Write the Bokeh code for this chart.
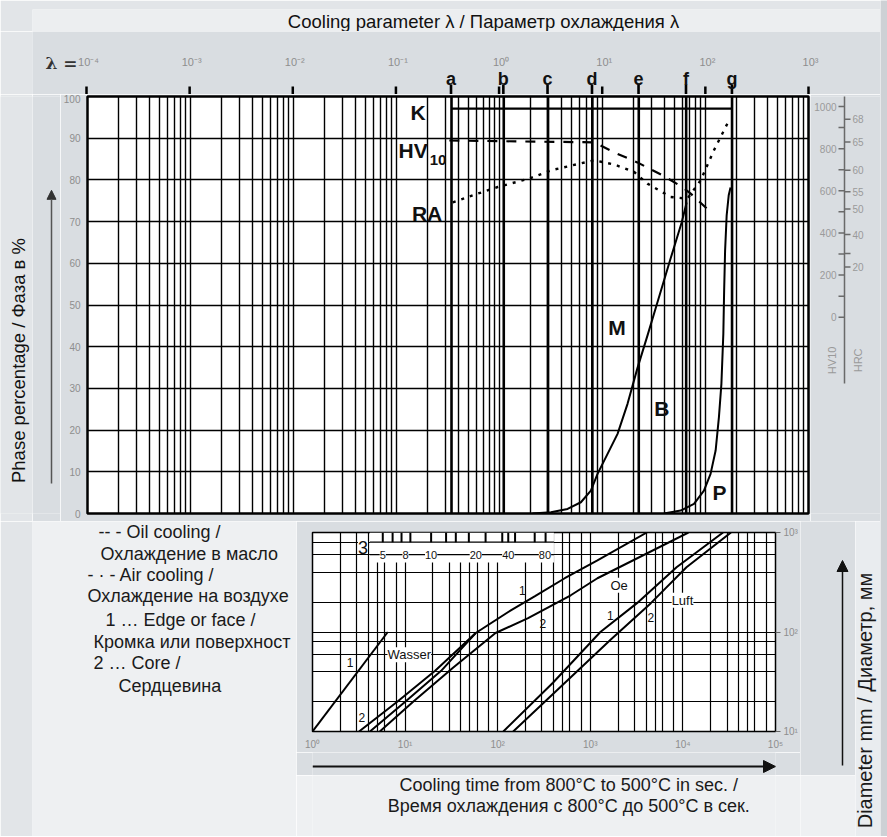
import math
from bokeh.plotting import figure
from bokeh.models import (Range1d, FixedTicker, LabelSet, Arrow, NormalHead, Span,
                          ColumnDataSource)
from bokeh.layouts import row, column
from bokeh.embed import file_html
from bokeh.resources import INLINE
from bokeh.core.properties import value

FONT = "Liberation Sans"
STRIP = "#e2e5e8"
PANEL = "#d9dde1"
HEAD = "#eceef0"
LOWER = "#eef0f2"
RSTRIP = "#e9ecef"
EDGE = "#cdd1d5"
TICKTXT = "#8e8e8e"
INK = "#111111"

# ---------------- data : upper chart ----------------
header_text = "Cooling parameter λ / Параметр охлаждения λ"
y_title = "Phase percentage / Фаза в %"
lam_prefix = "λ ="
lam_decades = [1e-4, 1e-3, 1e-2, 1e-1, 1.0, 10.0, 100.0, 1000.0]
lam_decade_labels = ["10⁻⁴", "10⁻³", "10⁻²", "10⁻¹", "10⁰", "10¹", "10²", "10³"]
lam_minor_mult = [1, 2, 3, 4, 5, 6, 7, 8, 9]
phase_ticks = [0, 10, 20, 30, 40, 50, 60, 70, 80, 90, 100]
curve_letters = ["a", "b", "c", "d", "e", "f", "g"]
curve_lambda = [0.342, 1.10, 2.95, 7.96, 22.5, 64.9, 181.0]
k_level = 97.1
hv_lambda = [0.326, 8.29, 12.97, 21.8, 38.1, 59.6, 71.8, 112.0]
hv_pct = [89.45, 89.0, 86.6, 84.2, 81.1, 78.3, 76.7, 72.3]
ra_lambda = [0.352, 0.614, 0.96, 1.94, 3.16, 5.12, 8.29, 12.97, 20.3, 27.3, 45.9, 66.7, 89.7, 120.8, 163.0]
ra_pct = [74.6, 76.7, 78.3, 80.3, 82.3, 83.5, 84.7, 83.7, 81.9, 79.1, 75.9, 75.5, 79.9, 87.1, 93.5]
m_lambda = [2.09, 3.16, 4.58, 6.17, 7.71, 8.95, 11.2, 14.0, 17.5, 21.8, 27.5, 35.1, 45.9, 58.7, 65.6]
m_pct = [0.0, 0.3, 1.1, 2.7, 5.5, 9.5, 14.3, 19.1, 26.3, 34.8, 42.9, 51.6, 61.2, 69.8, 74.6]
p_lambda = [39.5, 57.4, 77.3, 96.6, 112.0, 125.4, 135.0, 142.7, 149.0, 151.7, 155.0, 160.5, 168.0, 175.0]
p_pct = [0.0, 0.7, 2.3, 5.5, 9.5, 15.1, 23.1, 31.1, 43.1, 53.5, 63.1, 71.5, 76.3, 78.2]
phase_names = ["K", "HV", "RA", "M", "B", "P"]
phase_name_lambda = [0.162, 0.145, 0.198, 13.8, 37.6, 137.0]
phase_name_pct = [96.2, 87.1, 71.9, 44.6, 25.2, 5.0]
hv_sub = "10"
hv_sub_lambda = 0.253
hv_sub_pct = 84.7

# hardness scales (HV10 left, HRC right)
hv_ticks = [0, 100, 200, 300, 400, 500, 600, 700, 800, 900, 1000]
hv_shown = [0, 200, 400, 600, 800, 1000]
hrc_values = [68, 65, 60, 55, 50, 40, 30, 20]
hrc_as_hv = [940, 832, 697, 595, 513, 392, 302, 238]
hrc_shown = ["68", "65", "60", "55", "50", "40", "", "20"]
hv_rule = [-315, 1052]
scale_names = ["HV10", "HRC"]
scale_name_hv = -205

# ---------------- data : lower chart ----------------
t_decades = [1, 10, 100, 1000, 10000, 100000]
t_decade_labels = ["10⁰", "10¹", "10²", "10³", "10⁴", "10⁵"]
t_grid_mult = [1, 2, 3, 4, 5, 6, 8]
d_ticks = [10, 100, 1000]
d_tick_labels = ["10¹", "10²", "10³"]
d_grid = [10, 20, 40, 60, 80, 100, 200, 400, 600, 800, 1000]

wasser_edge_t = [1.0, 6.5]
wasser_edge_d = [10, 100]
wasser_core_t = [3.18, 8.29, 21.1, 57.9]
wasser_core_d = [10, 20, 40.7, 97.7]
oel_edge_t = [4.17, 10.1, 24.5, 57.9, 140, 253, 530, 1194, 4085]
oel_edge_d = [10, 20, 40.7, 97.7, 166, 229, 347, 525, 1000]
oel_core_t = [5.33, 12.3, 32.9, 94.7, 213, 615, 1194, 11478]
oel_core_d = [10, 20, 43.7, 97.7, 138, 234, 347, 1000]
luft_edge_t = [115, 395, 1285, 3194, 8543, 27150]
luft_edge_d = [10, 30.9, 100, 195, 447, 1000]
luft_core_t = [147, 505, 1644, 4506, 10930, 33050]
luft_core_d = [10, 29.5, 83.2, 195, 447, 1000]

medium_names = ["Wasser", "Oe", "Luft"]
medium_t = [11.1, 2050, 9900]
medium_d = [58.9, 295, 209]
curve_nums = ["1", "2", "1", "2", "1", "2"]
curve_num_t = [2.55, 3.42, 184, 308, 1645, 4505]
curve_num_d = [49, 13.8, 263, 123, 148, 141]

inset_title = "3"
inset_title_t = 3.51
inset_title_d = 706
inset_box_t = [4.17, 405]
inset_box_d = [500, 1000]
inset_tick_t = [5.74, 7.33, 9.15, 11.4, 19.1, 27.7, 35.3, 48.8, 74, 112, 130, 154, 251, 329]
inset_labels = ["5", "8", "10", "20", "40", "80"]
inset_label_t = [5.74, 10.1, 19.1, 58, 130, 324]
inset_label_d = 600
inset_rule_d = [800, 600]

legend_lines = ["-- - Oil cooling /", "Охлаждение в масло", "-  · - Air cooling /",
                "Охлаждение на воздухе", "1 … Edge or face /", "Кромка или поверхност",
                "2 … Core /", "Сердцевина"]
x_title_lines = ["Cooling time from 800°C to 500°C in sec. /",
                 "Время охлаждения с 800°C до 500°C в сек."]
d_title = "Diameter mm / Диаметр, мм"

# ---------------- page geometry (pixels) ----------------
LAM_X0, DEC_PX = 86.0, 722.0 / 7      # x of lambda=1e-4 and px per decade (upper chart)
HV_Y0, HV_PX = 316.7, 0.2107          # y of HV 0 and px per HV unit


def lam_at(px):
    return 10 ** (-4 + (px - LAM_X0) / DEC_PX)


def hv_at(py):
    return (HV_Y0 - py) / HV_PX


def fig(**kw):
    return figure(toolbar_location=None, tools="", output_backend="svg", **kw)


def blank(p):
    p.grid.visible = False
    p.outline_line_color = None


# ---------------- header (y 0..31) ----------------
p_head = fig(width=880, height=31, x_range=Range1d(32, 880), y_range=Range1d(31, 9),
             x_axis_location=None, y_axis_location=None,
             min_border_left=32, min_border_right=0, min_border_top=9, min_border_bottom=0,
             background_fill_color=HEAD, border_fill_color=STRIP)
blank(p_head)
p_head.text(x=[483], y=[21], text=[header_text], text_align="center", text_baseline="middle",
            text_font=value(FONT), text_font_size="18.5px", text_color=INK)

# ---------------- top band: lambda decades, ticks, cooling curve letters (y 31..94) -------------
p_top = fig(width=880, height=63, x_axis_type="log", x_range=Range1d(lam_at(32), lam_at(880)),
            y_range=Range1d(94, 31), x_axis_location=None, y_axis_location=None,
            min_border_left=32, min_border_right=0, min_border_top=0, min_border_bottom=0,
            background_fill_color=PANEL, border_fill_color=STRIP)
blank(p_top)
p_top.segment(x0=lam_decades, x1=lam_decades, y0=[94] * len(lam_decades), y1=[86] * len(lam_decades),
              line_color="black", line_width=2.5)
p_top.segment(x0=curve_lambda, x1=curve_lambda, y0=[94] * len(curve_lambda),
              y1=[84] * len(curve_lambda), line_color="black", line_width=2.6)
p_top.text(x=lam_decades, y=[61] * len(lam_decades), text=lam_decade_labels,
           text_align="center", text_baseline="middle", text_font=value(FONT),
           text_font_size="11px", text_color=TICKTXT, x_offset=2)
p_top.text(x=curve_lambda, y=[78] * len(curve_lambda), text=curve_letters,
           text_align="center", text_baseline="middle", text_font=value(FONT),
           text_font_size="18px", text_font_style="bold", text_color=INK)
p_top.text(x=[lam_at(77)], y=[62], text=[lam_prefix], text_align="right", text_baseline="middle",
           text_font=value("DejaVu Serif"), text_font_size="17px", text_font_style="bold",
           text_color="#333333")

# ---------------- row: left strip, arrow, main chart, hardness scale (y 94..521) --------------
BT, BB = 2, 8      # identical top / bottom borders so that all frames span y 96..513

p_strip = fig(width=32, height=427, x_range=Range1d(0, 32), y_range=Range1d(513, 96),
              x_axis_location=None, y_axis_location=None,
              min_border_left=0, min_border_right=0, min_border_top=BT, min_border_bottom=BB,
              background_fill_color=STRIP, border_fill_color=STRIP)
blank(p_strip)
p_strip.text(x=[18], y=[360], text=[y_title], angle=math.pi / 2, text_align="center",
             text_baseline="middle", text_font=value(FONT), text_font_size="18.5px",
             text_color=INK)

p_arrow = fig(width=28, height=427, x_range=Range1d(32, 60), y_range=Range1d(0, 100),
              x_axis_location=None, y_axis_location=None,
              min_border_left=0, min_border_right=0, min_border_top=BT, min_border_bottom=BB,
              background_fill_color=PANEL, border_fill_color=PANEL)
blank(p_arrow)
p_arrow.add_layout(Arrow(x_start=51, y_start=7.2, x_end=51, y_end=77.5,
                         line_color="#555555", line_width=1.5,
                         end=NormalHead(size=9, fill_color="#333333", line_color="#333333")))

p1 = fig(width=750, height=427, x_axis_type="log", x_range=Range1d(1e-4, 1e3),
         y_range=Range1d(0, 100), x_axis_location=None, y_axis_location="left",
         min_border_left=26, min_border_right=2, min_border_top=BT, min_border_bottom=BB,
         background_fill_color="white", border_fill_color=PANEL)
p1.outline_line_color = "black"
p1.outline_line_width = 2.5

ay = p1.yaxis[0]
ay.ticker = FixedTicker(ticks=phase_ticks)
ay.major_tick_out = 0
ay.major_tick_in = 0
ay.axis_line_color = None
ay.major_label_text_color = TICKTXT
ay.major_label_text_font = FONT
ay.major_label_text_font_size = "10px"
ay.major_label_standoff = 7

minor = [m * d for d in lam_decades[:-1] for m in lam_minor_mult] + [lam_decades[-1]]
p1.xgrid.ticker = FixedTicker(ticks=minor)
p1.ygrid.ticker = FixedTicker(ticks=phase_ticks)
for g in (p1.xgrid[0], p1.ygrid[0]):
    g.grid_line_color = "black"
    g.grid_line_alpha = 1.0
    g.grid_line_width = 1.4

for lam in curve_lambda:
    p1.add_layout(Span(location=lam, dimension="height", line_color="black", line_width=2.6))
p1.segment(x0=[curve_lambda[0]], x1=[curve_lambda[-1]], y0=[k_level], y1=[k_level],
           line_color="black", line_width=2.2)
p1.line(hv_lambda, hv_pct, line_color="black", line_width=2.2, line_dash="10 9")
p1.line(ra_lambda, ra_pct, line_color="black", line_width=2.4, line_dash="3 6")
p1.line(m_lambda, m_pct, line_color="black", line_width=2.0)
p1.line(p_lambda, p_pct, line_color="black", line_width=2.0)
p1.text(x=phase_name_lambda, y=phase_name_pct, text=phase_names, text_font=value(FONT),
        text_font_size="21px", text_font_style="bold", text_align="center",
        text_baseline="middle", text_color=INK)
p1.text(x=[hv_sub_lambda], y=[hv_sub_pct], text=[hv_sub], text_font=value(FONT),
        text_font_size="15px", text_font_style="bold", text_align="center",
        text_baseline="middle", text_color=INK)

p_scale = fig(width=70, height=427, x_range=Range1d(810, 880),
              y_range=Range1d(hv_at(513), hv_at(96)),
              x_axis_location=None, y_axis_location=None,
              min_border_left=0, min_border_right=0, min_border_top=BT, min_border_bottom=BB,
              background_fill_color=PANEL, border_fill_color=PANEL)
blank(p_scale)
SC = "#6a6a6a"
p_scale.segment(x0=[844], x1=[844], y0=[hv_rule[0]], y1=[hv_rule[1]], line_color=SC, line_width=1.5)
p_scale.segment(x0=[838] * len(hv_ticks), x1=[844] * len(hv_ticks), y0=hv_ticks, y1=hv_ticks,
                line_color=SC, line_width=1.5)
p_scale.segment(x0=[844] * len(hrc_as_hv), x1=[850] * len(hrc_as_hv), y0=hrc_as_hv, y1=hrc_as_hv,
                line_color=SC, line_width=1.5)
p_scale.text(x=[836] * len(hv_shown), y=hv_shown, text=[str(v) for v in hv_shown],
             text_align="right", text_baseline="middle", text_font=value(FONT),
             text_font_size="10px", text_color="#9a9a9a")
p_scale.text(x=[852] * len(hrc_as_hv), y=hrc_as_hv, text=hrc_shown,
             text_align="left", text_baseline="middle", text_font=value(FONT),
             text_font_size="10px", text_color="#9a9a9a")
p_scale.text(x=[831, 857], y=[scale_name_hv] * 2, text=scale_names, angle=math.pi / 2,
             text_align="center", text_baseline="middle", text_font=value(FONT),
             text_font_size="11px", text_color="#9a9a9a")

# ---------------- legend text (x 0..296, y 521..836) ----------------
p_leg = fig(width=296, height=315, x_range=Range1d(32, 296), y_range=Range1d(836, 521),
            x_axis_location=None, y_axis_location=None,
            min_border_left=32, min_border_right=0, min_border_top=0, min_border_bottom=0,
            background_fill_color=LOWER, border_fill_color=STRIP)
blank(p_leg)
leg_x = [98, 100, 87, 87, 105, 93, 93, 118]
leg_y = [531, 553, 574, 595, 619, 641, 662, 685]
p_leg.text(x=leg_x, y=leg_y, text=legend_lines, text_font=value(FONT), text_font_size="18px",
           text_align="left", text_baseline="middle", text_color="#1a1a1a")

# ---------------- lower chart (x 296..800, y 521..752) ----------------
L2, R2 = 16, 20    # identical left / right borders in this column: frames span x 312..780
p2 = fig(width=504, height=231, x_axis_type="log", y_axis_type="log",
         x_range=Range1d(1, 1e5), y_range=Range1d(10, 1000), y_axis_location="right",
         min_border_left=L2, min_border_right=R2, min_border_top=11, min_border_bottom=20,
         background_fill_color="white", border_fill_color=PANEL)
p2.outline_line_color = "black"
p2.outline_line_width = 1.5
bx = p2.xaxis[0]
bx.ticker = FixedTicker(ticks=t_decades)
bx.major_label_overrides = {v: s for v, s in zip(t_decades, t_decade_labels)}
by = p2.yaxis[0]
by.ticker = FixedTicker(ticks=d_ticks)
by.major_label_overrides = {v: s for v, s in zip(d_ticks, d_tick_labels)}
for a in (bx, by):
    a.axis_line_color = None
    a.minor_tick_line_color = None
    a.major_tick_in = 0
    a.major_label_text_color = TICKTXT
    a.major_label_text_font = FONT
    a.major_label_text_font_size = "10px"
bx.major_tick_out = 0
bx.major_label_standoff = 7
by.major_tick_out = 5
by.major_tick_line_color = "#666666"
by.major_label_standoff = 3
p2.xgrid.ticker = FixedTicker(ticks=[m * d for d in t_decades[:-1] for m in t_grid_mult] + [t_decades[-1]])
p2.ygrid.ticker = FixedTicker(ticks=d_grid)
for g in (p2.xgrid[0], p2.ygrid[0]):
    g.grid_line_color = "black"
    g.grid_line_alpha = 1.0
    g.grid_line_width = 1.2

# inset size scale
p2.quad(left=[inset_box_t[0]], right=[inset_box_t[1]], bottom=[inset_box_d[0]], top=[inset_box_d[1]],
        fill_color="white", line_color=None)
p2.segment(x0=[inset_box_t[0]] * 2, x1=[inset_box_t[1]] * 2, y0=inset_rule_d, y1=inset_rule_d,
           line_color="black", line_width=1.2)
p2.segment(x0=inset_tick_t, x1=inset_tick_t, y0=[inset_rule_d[0]] * len(inset_tick_t),
           y1=[inset_box_d[1]] * len(inset_tick_t), line_color="black", line_width=2)
p2.add_layout(LabelSet(source=ColumnDataSource(dict(x=inset_label_t, y=[inset_label_d] * len(inset_labels),
                                                    t=inset_labels)),
                       x="x", y="y", text="t", text_align="center", text_baseline="middle",
                       text_font=value(FONT), text_font_size="11px", text_color=INK,
                       background_fill_color="white"))
p2.add_layout(LabelSet(source=ColumnDataSource(dict(x=[inset_title_t], y=[inset_title_d], t=[inset_title])),
                       x="x", y="y", text="t", text_align="center", text_baseline="middle",
                       text_font=value(FONT), text_font_size="18px", text_color=INK,
                       background_fill_color="white"))

for tt, dd in ((wasser_edge_t, wasser_edge_d), (wasser_core_t, wasser_core_d),
               (oel_edge_t, oel_edge_d), (oel_core_t, oel_core_d),
               (luft_edge_t, luft_edge_d), (luft_core_t, luft_core_d)):
    p2.line(tt, dd, line_color="black", line_width=2)

p2.add_layout(LabelSet(source=ColumnDataSource(dict(x=medium_t, y=medium_d, t=medium_names)),
                       x="x", y="y", text="t", text_align="center", text_baseline="middle",
                       text_font=value(FONT), text_font_size="13px", text_color=INK,
                       background_fill_color="white"))
p2.text(x=curve_num_t, y=curve_num_d, text=curve_nums, text_font=value(FONT),
        text_font_size="12px", text_align="center", text_baseline="middle", text_color=INK)

# time arrow band (y 752..775); frame spans x 312..780 like the chart above
p_harr = fig(width=504, height=23, x_axis_type="log", x_range=Range1d(t_decades[0], t_decades[-1]),
             y_range=Range1d(775, 752), x_axis_location=None, y_axis_location=None,
             min_border_left=L2, min_border_right=R2, min_border_top=0, min_border_bottom=0,
             background_fill_color=PANEL, border_fill_color=PANEL)
blank(p_harr)
p_harr.add_layout(Arrow(x_start=t_decades[0], y_start=766, x_end=t_decades[-1], y_end=766,
                        line_color=INK, line_width=2,
                        end=NormalHead(size=12, fill_color=INK, line_color=INK)))

p_xlab = fig(width=504, height=61, x_range=Range1d(312, 780), y_range=Range1d(836, 775),
             x_axis_location=None, y_axis_location=None,
             min_border_left=L2, min_border_right=R2, min_border_top=0, min_border_bottom=0,
             background_fill_color=LOWER, border_fill_color=LOWER)
blank(p_xlab)
p_xlab.text(x=[571, 571], y=[784, 805], text=x_title_lines, text_font=value(FONT),
            text_font_size="18px", text_align="center", text_baseline="middle",
            text_color="#1a1a1a")

# vertical diameter arrow column (x 800..855)
p_varr = fig(width=55, height=254, x_range=Range1d(800, 855), y_range=Range1d(775, 521),
             x_axis_location=None, y_axis_location=None, min_border=0,
             background_fill_color=PANEL, border_fill_color=PANEL)
blank(p_varr)
p_varr.add_layout(Arrow(x_start=842, y_start=765, x_end=842, y_end=560, line_color=INK,
                        line_width=1.5, end=NormalHead(size=11, fill_color=INK, line_color=INK)))
p_vfill = fig(width=55, height=61, x_range=Range1d(0, 1), y_range=Range1d(0, 1),
              x_axis_location=None, y_axis_location=None, min_border=0,
              background_fill_color=LOWER, border_fill_color=LOWER)
blank(p_vfill)

p_rlab = fig(width=25, height=315, x_range=Range1d(855, 880), y_range=Range1d(836, 521),
             x_axis_location=None, y_axis_location=None, min_border=0,
             background_fill_color=RSTRIP, border_fill_color=RSTRIP)
blank(p_rlab)
p_rlab.text(x=[864], y=[700], text=[d_title], angle=math.pi / 2, text_align="center",
            text_baseline="middle", text_font=value(FONT), text_font_size="20px",
            text_color="#1a1a1a")

# thin darker edge at the right of the page
p_edge = fig(width=7, height=836, x_range=Range1d(0, 1), y_range=Range1d(0, 1),
             x_axis_location=None, y_axis_location=None, min_border=0,
             background_fill_color=EDGE, border_fill_color=EDGE)
blank(p_edge)

body = column(
    p_head,
    p_top,
    row(p_strip, p_arrow, p1, p_scale),
    row(p_leg, column(p2, p_harr, p_xlab), column(p_varr, p_vfill), p_rlab),
)
layout = row(body, p_edge)
open("out.html", "w").write(file_html(layout, INLINE))
